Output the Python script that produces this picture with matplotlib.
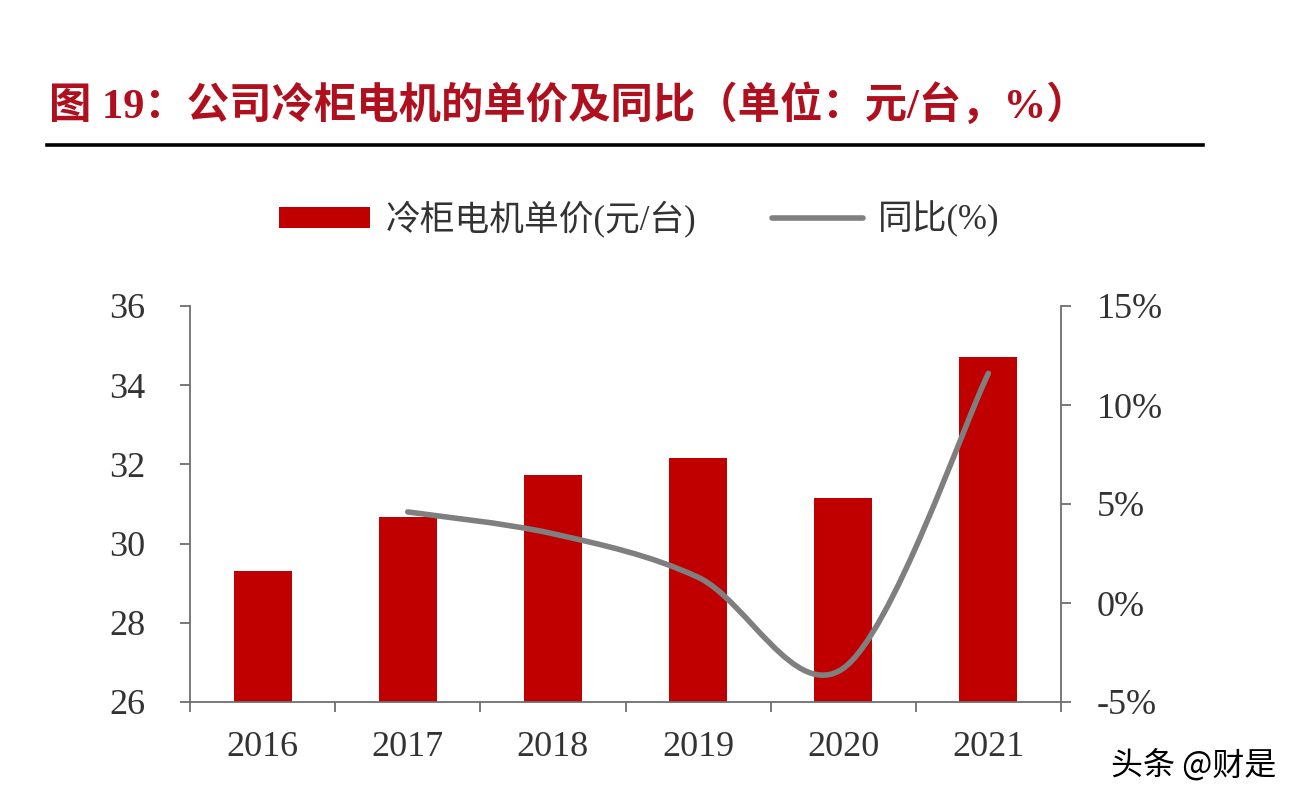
import matplotlib

matplotlib.use("Agg")
import matplotlib.pyplot as plt
from matplotlib.lines import Line2D
from matplotlib.patches import Patch, PathPatch
from matplotlib.path import Path

plt.rcParams["font.family"] = ["Liberation Serif", "Noto Sans CJK SC", "DejaVu Sans"]

years = ["2016", "2017", "2018", "2019", "2020", "2021"]
unit_price = [29.32, 30.66, 31.74, 32.17, 31.14, 34.72]
yoy_pct = [None, 4.6, 3.5, 1.3, -3.3, 11.6]

price_ticks = [26, 28, 30, 32, 34, 36]
yoy_ticks = [-5, 0, 5, 10, 15]

bar_color = "#C00000"
line_color = "#7F7F7F"
axis_color = "#6E6E6E"
text_color = "#333333"


def smooth_path(xs, ys):
    # excel-style smoothed line: cubic bezier with catmull-rom control points
    pts = list(zip(xs, ys))
    verts = [pts[0]]
    codes = [Path.MOVETO]
    n = len(pts)
    for i in range(n - 1):
        p0 = pts[i - 1] if i > 0 else pts[i]
        p1 = pts[i]
        p2 = pts[i + 1]
        p3 = pts[i + 2] if i + 2 < n else pts[i + 1]
        c1 = (p1[0] + (p2[0] - p0[0]) / 6, p1[1] + (p2[1] - p0[1]) / 6)
        c2 = (p2[0] - (p3[0] - p1[0]) / 6, p2[1] - (p3[1] - p1[1]) / 6)
        verts += [c1, c2, p2]
        codes += [Path.CURVE4] * 3
    return Path(verts, codes)


fig = plt.figure(figsize=(13, 8.02), dpi=100)
fig.patch.set_facecolor("white")

fig.text(
    0.038, 0.869,
    "图 19：公司冷柜电机的单价及同比（单位：元/台，%）",
    fontsize=30.5, fontweight="bold", color="#B0101E",
    ha="left", va="center",
)
fig.add_artist(Line2D([47 / 1300, 1203 / 1300], [1 - 145 / 802] * 2,
                      color="black", linewidth=2.6))

ax = fig.add_axes([190 / 1300, 100 / 802, 871 / 1300, 396 / 802])
x = list(range(len(years)))
ax.bar(x, [v - price_ticks[0] for v in unit_price], bottom=price_ticks[0],
       width=0.4, color=bar_color, zorder=2)
ax.set_xlim(-0.5, len(years) - 0.5)
ax.set_ylim(price_ticks[0], price_ticks[-1])
ax.set_yticks(price_ticks)
ax.set_yticklabels([str(t) for t in price_ticks])

ax.set_xticks([i - 0.5 for i in range(len(years) + 1)])
ax.set_xticklabels([])
ax.set_xticks(x, minor=True)
ax.set_xticklabels(years, minor=True)
ax.tick_params(axis="x", which="major", direction="out", length=7, width=1.3, color=axis_color)
ax.tick_params(axis="x", which="minor", length=0, pad=21, labelsize=26, labelcolor=text_color)
ax.tick_params(axis="y", direction="out", length=7, width=1.3, color=axis_color,
               pad=25, labelsize=26, labelcolor=text_color)

for side in ["top", "right"]:
    ax.spines[side].set_visible(False)
for side in ["left", "bottom"]:
    ax.spines[side].set_color(axis_color)
    ax.spines[side].set_linewidth(1.3)

ax2 = ax.twinx()
ax2.set_ylim(yoy_ticks[0], yoy_ticks[-1])
ax2.set_yticks(yoy_ticks)
ax2.set_yticklabels([f"{t}%" for t in yoy_ticks])
ax2.tick_params(axis="y", direction="out", length=7, width=1.3, color=axis_color,
                pad=19, labelsize=26, labelcolor=text_color)
for side in ["top", "left", "bottom"]:
    ax2.spines[side].set_visible(False)
ax2.spines["right"].set_color(axis_color)
ax2.spines["right"].set_linewidth(1.3)

line_x = [i for i, v in enumerate(yoy_pct) if v is not None]
line_y = [v for v in yoy_pct if v is not None]
ax2.add_patch(PathPatch(smooth_path(line_x, line_y), facecolor="none",
                        edgecolor=line_color, linewidth=4.0, capstyle="round", zorder=3))

handles = [
    Patch(facecolor=bar_color, edgecolor="none", label="冷柜电机单价(元/台)"),
    Line2D([], [], color=line_color, linewidth=4.0, solid_capstyle="round", label="同比(%)"),
]
fig.legend(handles=handles, loc="center", bbox_to_anchor=(0.492, 0.727), ncol=2,
           frameon=False, fontsize=25, handlelength=2.6, handleheight=0.55,
           handletextpad=0.45, columnspacing=2.2, labelcolor=text_color)

fig.text(0.982, 0.046, "头条 @财是", fontsize=23, color="black",
         family=["Noto Sans CJK SC"], ha="right", va="center")

fig.savefig("out.png", dpi=100, facecolor="white")
